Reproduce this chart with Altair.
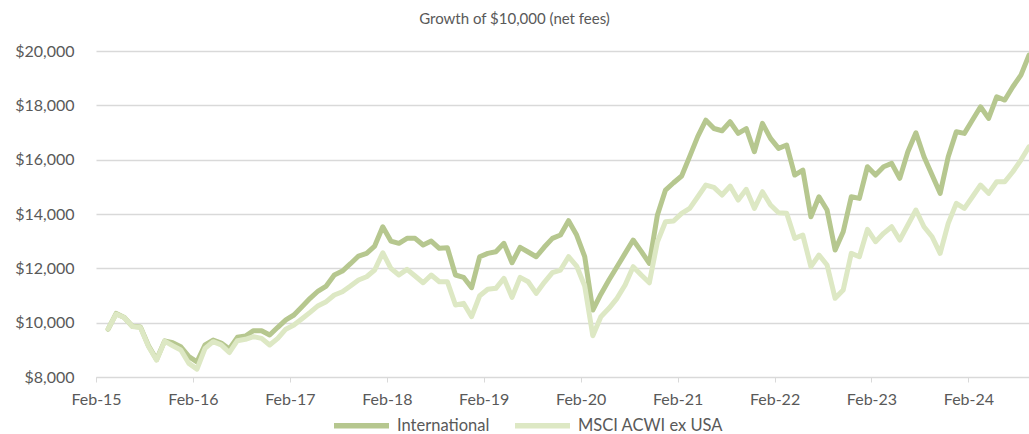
import altair as alt
import pandas as pd

# Monthly observations, Mar-2015 .. Sep-2024 (115 months)
months = pd.period_range("2015-03", "2024-09", freq="M").strftime("%Y-%m").tolist()

international = [
    9760, 10340, 10190, 9870, 9840, 9150, 8640, 9330, 9260, 9115,
    8750, 8560, 9180, 9360, 9250, 9030, 9461, 9509, 9704, 9704,
    9546, 9830, 10100, 10282, 10588, 10896, 11165, 11349, 11754, 11900,
    12170, 12453, 12552, 12821, 13531, 13005, 12920, 13104, 13104, 12858,
    13005, 12736, 12760, 11754, 11669, 11287, 12427, 12552, 12611, 12920,
    12206, 12773, 12600, 12427, 12784, 13104, 13226, 13752, 13226, 12427,
    10466, 11050, 11570, 12060, 12550, 13042, 12625, 12184, 13962, 14880,
    15150, 15400, 16122, 16857, 17452, 17146, 17064, 17395, 16968, 17146,
    16291, 17336, 16784, 16416, 16538, 15434, 15618, 13899, 14635, 14146,
    12674, 13347, 14635, 14576, 15740, 15434, 15740, 15864, 15312, 16291,
    16990, 16107, 15434, 14760, 16107, 17027, 16968, 17458, 17947, 17520,
    18315, 18194, 18683, 19114, 19850,
]

msci_acwi_ex_usa = [
    9770, 10320, 10190, 9860, 9820, 9120, 8620, 9320, 9150, 8994,
    8500, 8290, 9055, 9300, 9180, 8900, 9336, 9387, 9483, 9420,
    9178, 9420, 9760, 9914, 10146, 10380, 10625, 10772, 11018, 11140,
    11349, 11570, 11691, 11938, 12574, 12000, 11754, 11963, 11717, 11470,
    11754, 11507, 11507, 10650, 10712, 10220, 10990, 11230, 11263, 11632,
    10932, 11669, 11507, 11080, 11485, 11840, 11938, 12427, 12085, 11350,
    9520, 10220, 10527, 10896, 11386, 12060, 11754, 11470, 12980, 13715,
    13741, 14024, 14208, 14635, 15066, 14981, 14698, 15029, 14514, 14907,
    14208, 14820, 14330, 14047, 14024, 13104, 13226, 12060, 12490, 12122,
    10896, 11202, 12552, 12427, 13435, 12981, 13288, 13531, 13042, 13594,
    14146, 13531, 13163, 12552, 13656, 14392, 14208, 14635, 15066, 14760,
    15188, 15188, 15555, 15986, 16475,
]

series_names = ["International", "MSCI ACWI ex USA"]
series_colors = ["#B6C78F", "#DDE8C4"]
y_ticks = [8000, 10000, 12000, 14000, 16000, 18000, 20000]
x_tick_months = [0, 12, 24, 36, 48, 60, 72, 84, 96, 108]  # months after Feb-2015


def month_pos(ym):
    y, m = ym.split("-")
    # months since 1 Feb 2015, plotted mid-month
    return (int(y) - 2015) * 12 + (int(m) - 2) + 0.5


rows = []
for name, vals in zip(series_names, [international, msci_acwi_ex_usa]):
    for ym, v in zip(months, vals):
        rows.append({"month": ym, "pos": month_pos(ym), "value": v, "series": name})
df = pd.DataFrame(rows)

FONT = "Lato"
GREY = "#595959"

chart = (
    alt.Chart(df)
    .mark_line(strokeWidth=5, strokeJoin="round", strokeCap="round")
    .encode(
        x=alt.X(
            "pos:Q",
            scale=alt.Scale(domain=[0, 115.5], nice=False, zero=False),
            axis=alt.Axis(
                values=x_tick_months,
                labelExpr="'Feb-' + (15 + floor(datum.value / 12))",
                grid=False,
                domainColor="#D9D9D9",
                domainWidth=1,
                tickColor="#D9D9D9",
                tickSize=5,
                labelPadding=9,
                labelFlush=False,
                labelFontSize=16,
                labelColor=GREY,
                labelFont=FONT,
                title=None,
            ),
        ),
        y=alt.Y(
            "value:Q",
            scale=alt.Scale(domain=[8000, 20000], nice=False, zero=False),
            axis=alt.Axis(
                values=y_ticks,
                format="$,.0f",
                domain=False,
                ticks=False,
                gridColor="#D9D9D9",
                gridWidth=1.3,
                labelPadding=22,
                labelFontSize=16,
                labelColor=GREY,
                labelFont=FONT,
                title=None,
            ),
        ),
        color=alt.Color(
            "series:N",
            scale=alt.Scale(domain=series_names, range=series_colors),
            legend=alt.Legend(
                title=None,
                orient="none",
                direction="horizontal",
                legendX=235,
                legendY=344,
                symbolType="stroke",
                symbolSize=3025,
                symbolStrokeWidth=5.5,
                labelFontSize=16.5,
                labelColor=GREY,
                labelFont=FONT,
                labelOffset=5,
                columnPadding=14,
                padding=0,
            ),
        ),
        detail="series:N",
        order="pos:Q",
    )
    .properties(
        width=933,
        height=326,
        title=alt.TitleParams(
            text="Growth of $10,000 (net fees)",
            fontSize=15,
            font=FONT,
            fontWeight="normal",
            color=GREY,
            anchor="middle",
            dx=-48,
            offset=16,
        ),
        autosize=alt.AutoSizeParams(type="none"),
        padding={"left": 96, "top": 51, "right": 0, "bottom": 57},
    )
    .configure_view(stroke=None)
)

chart.save("out.html", embed_options={"renderer": "svg", "actions": False})
